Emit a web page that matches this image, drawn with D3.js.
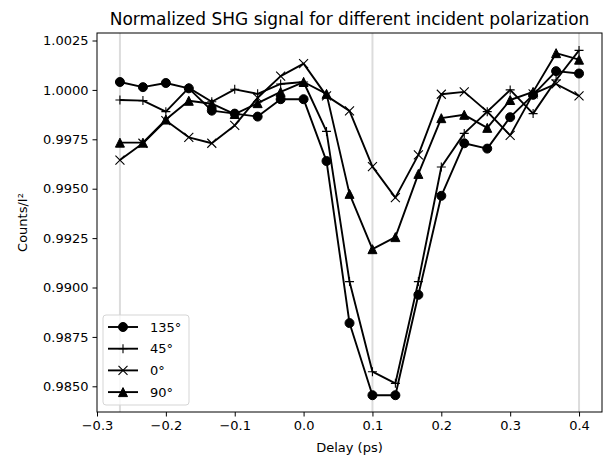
<!DOCTYPE html>
<html>
<head>
<meta charset="utf-8">
<script src="https://cdn.jsdelivr.net/npm/d3@7"></script>
<style>
  body { margin: 0; background: #fff; }
  text { font-family: "DejaVu Sans", sans-serif; fill: #000; }
</style>
</head>
<body>
<div id="wrapper"></div>
<script>
// delay points (ps)
const delays = [-0.2667, -0.2333, -0.2, -0.1667, -0.1333, -0.1, -0.0667, -0.0333, 0.0, 0.0333, 0.0667,
  0.1, 0.1333, 0.1667, 0.2, 0.2333, 0.2667, 0.3, 0.3333, 0.3667, 0.4]

const pol135 = [1.0004, 1.00014, 1.00035, 1.00008, 0.99895, 0.9988, 0.99865, 0.99953, 0.99953, 0.9964, 0.9882,
  0.98455, 0.98455, 0.98963, 0.99464, 0.9973, 0.99703, 0.99862, 0.99975, 1.00095, 1.00083]
const pol45 = [0.99949, 0.99946, 0.9989, 1.0001, 0.9994, 1.00003, 0.9998, 1.0003, 1.0004, 0.9979, 0.9903,
  0.98574, 0.98515, 0.9903, 0.9961, 0.9978, 0.9989, 1.0, 0.9988, 1.0005, 1.002]
const pol0 = [0.99645, 0.9973, 0.99845, 0.9976, 0.9973, 0.9982, 0.9996, 1.0007, 1.00133, 0.9997, 0.99894,
  0.99612, 0.99455, 0.99671, 0.99978, 0.9999, 0.9989, 0.9977, 0.9998, 1.0003, 0.9997]
const pol90 = [0.99733, 0.99733, 0.9985, 0.99945, 0.9993, 0.99878, 0.99933, 0.9999, 1.0004, 0.9998, 0.99474,
  0.99194, 0.99255, 0.99575, 0.99857, 0.99874, 0.99808, 0.99949, 0.9999, 1.00186, 1.00153]

const seriesNames = ["135°", "45°", "0°", "90°"]
const seriesMarkers = ["circle", "plus", "x", "triangle"]
const guideDelays = [-0.2667, 0.1, 0.4]

const xTicks = [-0.3, -0.2, -0.1, 0.0, 0.1, 0.2, 0.3, 0.4]
const yTicks = [0.985, 0.9875, 0.99, 0.9925, 0.995, 0.9975, 1.0, 1.0025]

const series = [pol135, pol45, pol0, pol90].map((vals, i) => ({
  name: seriesNames[i],
  marker: seriesMarkers[i],
  points: vals.map((v, j) => [delays[j], v])
}))

const width = 607
const height = 458
const margin = {left: 97, right: 5, top: 33, bottom: 46}
const innerW = width - margin.left - margin.right
const innerH = height - margin.top - margin.bottom

const x = d3.scaleLinear().domain([-0.3, 0.43335]).range([0, innerW])
const y = d3.scaleLinear().domain([0.9837, 1.00288]).range([innerH, 0])

const svg = d3.select("#wrapper").append("svg")
  .attr("width", width)
  .attr("height", height)

const bounds = svg.append("g")
  .attr("transform", `translate(${margin.left},${margin.top})`)

// light vertical guide lines
bounds.selectAll(".guide").data(guideDelays).enter().append("line")
  .attr("x1", d => x(d)).attr("x2", d => x(d))
  .attr("y1", 0).attr("y2", innerH)
  .style("stroke", "#dcdcdc")
  .style("stroke-width", 2)

function markerPath(type) {
  const r = 4.5
  if (type == "circle") return `M${-r},0A${r},${r} 0 1,0 ${r},0A${r},${r} 0 1,0 ${-r},0Z`
  if (type == "triangle") return `M0,${-r}L${r},${r}L${-r},${r}Z`
  if (type == "plus") return `M${-r},0H${r}M0,${-r}V${r}`
  return `M${-r},${-r}L${r},${r}M${-r},${r}L${r},${-r}`
}

const line = d3.line().x(d => x(d[0])).y(d => y(d[1]))

series.forEach(s => {
  bounds.append("path")
    .datum(s.points)
    .attr("d", line)
    .style("fill", "none")
    .style("stroke", "#000")
    .style("stroke-width", 1.9)
    .style("stroke-linejoin", "round")

  const filled = s.marker == "circle" || s.marker == "triangle"
  bounds.selectAll(null).data(s.points).enter().append("path")
    .attr("transform", d => `translate(${x(d[0])},${y(d[1])})`)
    .attr("d", markerPath(s.marker))
    .style("fill", filled ? "#000" : "none")
    .style("stroke", "#000")
    .style("stroke-width", filled ? 1 : 1.1)
})

// axes
const xAxis = d3.axisBottom(x).tickValues(xTicks).tickFormat(d3.format(".1f")).tickSizeOuter(0).tickSize(4.5).tickPadding(4)
const yAxis = d3.axisLeft(y).tickValues(yTicks).tickFormat(d3.format(".4f")).tickSizeOuter(0).tickSize(4.5).tickPadding(4)

const gx = bounds.append("g").attr("transform", `translate(0,${innerH})`).call(xAxis)
const gy = bounds.append("g").call(yAxis)
;[gx, gy].forEach(g => {
  g.select(".domain").remove()
  g.selectAll("line").style("stroke", "#000").style("stroke-width", 1)
  g.selectAll("text").style("font-size", "13px").style("font-family", "DejaVu Sans")
})

bounds.append("rect")
  .attr("width", innerW).attr("height", innerH)
  .style("fill", "none")
  .style("stroke", "#000")
  .style("stroke-width", 1)

// labels
svg.append("text")
  .attr("x", margin.left + innerW / 2).attr("y", 25)
  .attr("text-anchor", "middle")
  .style("font-size", "17px")
  .text("Normalized SHG signal for different incident polarization")

svg.append("text")
  .attr("x", margin.left + innerW / 2).attr("y", 452)
  .attr("text-anchor", "middle")
  .style("font-size", "13px")
  .text("Delay (ps)")

svg.append("text")
  .attr("transform", `translate(27,${margin.top + innerH / 2}) rotate(-90)`)
  .attr("text-anchor", "middle")
  .style("font-size", "13px")
  .text("Counts/I²")

// legend
const legend = svg.append("g").attr("transform", "translate(103,315)")
legend.append("rect")
  .attr("width", 86).attr("height", 90)
  .attr("rx", 3)
  .style("fill", "#fff")
  .style("fill-opacity", 0.8)
  .style("stroke", "#d5d5d5")
  .style("stroke-width", 1)

series.forEach((s, i) => {
  const ly = 12 + i * 21.7
  const filled = s.marker == "circle" || s.marker == "triangle"
  legend.append("line")
    .attr("x1", 5).attr("x2", 35).attr("y1", ly).attr("y2", ly)
    .style("stroke", "#000").style("stroke-width", 1.9)
  legend.append("path")
    .attr("transform", `translate(20,${ly})`)
    .attr("d", markerPath(s.marker))
    .style("fill", filled ? "#000" : "none")
    .style("stroke", "#000")
    .style("stroke-width", filled ? 1 : 1.1)
  legend.append("text")
    .attr("x", 47).attr("y", ly + 4.5)
    .style("font-size", "13px")
    .text(s.name)
})
</script>
</body>
</html>
